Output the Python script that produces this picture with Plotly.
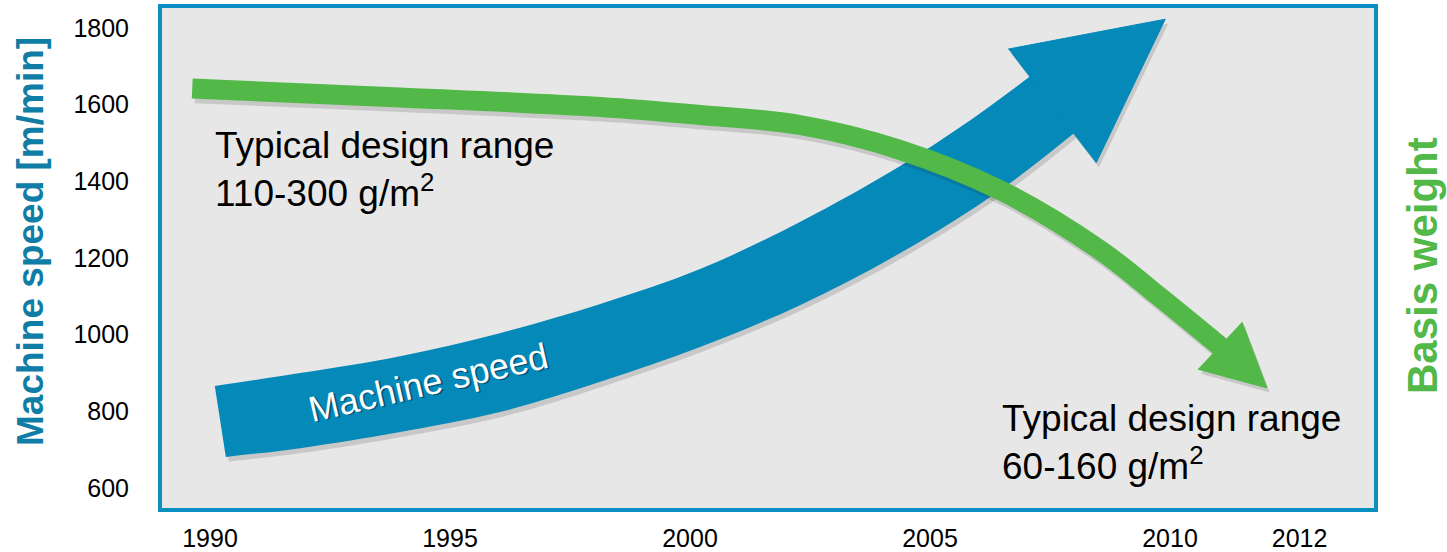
import plotly.graph_objects as go

# ---------------- data ----------------
# Machine speed band: upper and lower edges of the curved arrow (year, m/min)
speed_upper_year = [1990.10, 1991.88, 1993.96, 1996.04, 1998.13, 2000.21, 2002.29, 2004.38, 2005.73, 2007.15]
speed_upper_val = [866, 900, 944, 1004, 1080, 1171, 1294, 1440, 1550, 1680]
speed_lower_year = [1990.33, 1991.88, 1993.96, 1996.04, 1998.13, 2000.21, 2002.29, 2004.38, 2006.46, 2008.08]
speed_lower_val = [681, 704, 746, 798, 877, 968, 1077, 1213, 1377, 1534]
speed_head_year = [2006.63, 2009.90, 2008.46]
speed_head_val = [1745, 1823, 1448]

# Basis weight trend: centre line of the green arrow and its head
basis_year = [1989.63, 1993.96, 1998.13, 2000.21, 2002.29, 2004.38, 2006.46, 2008.54, 2009.79, 2011.06]
basis_val = [1642, 1619, 1594, 1573, 1547, 1482, 1377, 1221, 1098, 968]
basis_head_year = [2011.50, 2012.02, 2010.58]
basis_head_val = [1033, 861, 910]

x_tick_labels = ["1990", "1995", "2000", "2005", "2010", "2012"]
x_tick_pos = [1990, 1995, 2000, 2005, 2010, 2012.7]
y_tick_vals = [600, 800, 1000, 1200, 1400, 1600, 1800]

# ---------------- styles ----------------
BLUE = "#0489b9"
BORDER = "#0b8ec2"
TITLE_BLUE = "#0f7da5"
GREEN = "#52b848"
SHADOW = "rgba(40,40,40,0.16)"
FONT = "Liberation Sans, Arial, sans-serif"
SDX, SDY = 0.06, -12  # drop-shadow offset in data units


def shifted(xs, ys):
    return [x + SDX for x in xs], [y + SDY for y in ys]


fig = go.Figure()

# blue band shadow
sx, sy = shifted(speed_lower_year, speed_lower_val)
fig.add_trace(go.Scatter(x=sx, y=sy, mode="lines", line=dict(width=0, shape="spline", color=SHADOW),
                         hoverinfo="skip", showlegend=False))
sx, sy = shifted(speed_upper_year, speed_upper_val)
fig.add_trace(go.Scatter(x=sx, y=sy, mode="lines", line=dict(width=0, shape="spline", color=SHADOW),
                         fill="tonexty", fillcolor=SHADOW, hoverinfo="skip", showlegend=False))
sx, sy = shifted(speed_head_year, speed_head_val)
fig.add_trace(go.Scatter(x=sx, y=sy, mode="lines", line=dict(width=0, color=SHADOW),
                         fill="toself", fillcolor=SHADOW, hoverinfo="skip", showlegend=False))

# blue band
fig.add_trace(go.Scatter(x=speed_lower_year, y=speed_lower_val, mode="lines",
                         line=dict(width=0, shape="spline", color=BLUE), hoverinfo="skip", showlegend=False))
fig.add_trace(go.Scatter(x=speed_upper_year, y=speed_upper_val, mode="lines",
                         line=dict(width=0, shape="spline", color=BLUE), fill="tonexty", fillcolor=BLUE,
                         name="Machine speed", showlegend=False))
fig.add_trace(go.Scatter(x=speed_head_year, y=speed_head_val, mode="lines", line=dict(width=1, color=BLUE),
                         fill="toself", fillcolor=BLUE, hoverinfo="skip", showlegend=False))

# green arrow (on overlaid right axis)
sx, sy = shifted(basis_year, basis_val)
fig.add_trace(go.Scatter(x=sx, y=sy, yaxis="y2", mode="lines", line=dict(width=20, shape="spline", color=SHADOW),
                         hoverinfo="skip", showlegend=False))
sx, sy = shifted(basis_head_year, basis_head_val)
fig.add_trace(go.Scatter(x=sx, y=sy, yaxis="y2", mode="lines", line=dict(width=0, color=SHADOW),
                         fill="toself", fillcolor=SHADOW, hoverinfo="skip", showlegend=False))
fig.add_trace(go.Scatter(x=basis_year, y=basis_val, yaxis="y2", mode="lines",
                         line=dict(width=20, shape="spline", color=GREEN), name="Basis weight", showlegend=False))
fig.add_trace(go.Scatter(x=basis_head_year, y=basis_head_val, yaxis="y2", mode="lines",
                         line=dict(width=1, color=GREEN), fill="toself", fillcolor=GREEN,
                         hoverinfo="skip", showlegend=False))

# text labels
fig.add_annotation(x=1990.06, y=1430, xref="x", yref="y", xanchor="left", yanchor="middle", align="left",
                   text="Typical design range<br>110-300 g/m<sup>2</sup>", showarrow=False,
                   font=dict(family=FONT, size=37, color="#000000"))
fig.add_annotation(x=2006.46, y=718, xref="x", yref="y", xanchor="left", yanchor="middle", align="left",
                   text="Typical design range<br>60-160 g/m<sup>2</sup>", showarrow=False,
                   font=dict(family=FONT, size=37, color="#000000"))
# band label with a faint text shadow
fig.add_annotation(x=1994.55, y=876, xref="x", yref="y", text="Machine speed", showarrow=False,
                   textangle=-13, xshift=1.5, yshift=-1.5,
                   font=dict(family=FONT, size=36, color="rgba(0,40,60,0.55)"))
fig.add_annotation(x=1994.55, y=876, xref="x", yref="y", text="Machine speed", showarrow=False,
                   textangle=-13, font=dict(family=FONT, size=36, color="#ffffff"))

# axis titles
fig.add_annotation(x=-0.1089, y=0.532, xref="paper", yref="paper", xanchor="center", yanchor="middle",
                   text="Machine speed [m/min]", textangle=-90, showarrow=False,
                   font=dict(family=FONT, size=37, color=TITLE_BLUE, weight="bold"))
fig.add_annotation(x=1.0396, y=0.486, xref="paper", yref="paper", xanchor="center", yanchor="middle",
                   text="Basis weight", textangle=-90, showarrow=False,
                   font=dict(family=FONT, size=42, color=GREEN, weight="bold"))

RANGE_Y = [547.8, 1852.2]

fig.update_layout(
    width=1447, height=552,
    margin=dict(l=162, r=73, t=8, b=44),
    paper_bgcolor="#ffffff",
    plot_bgcolor="#e7e7e7",
    font=dict(family=FONT, size=25, color="#000000"),
    xaxis=dict(range=[1989.0, 2014.25], tickvals=x_tick_pos, ticktext=x_tick_labels,
               showgrid=False, zeroline=False, showline=True, mirror=True, linewidth=4, linecolor=BORDER,
               ticks="", ticklabelstandoff=5, automargin=False,
               tickfont=dict(family=FONT, size=25, color="#000000")),
    yaxis=dict(range=RANGE_Y, tickvals=y_tick_vals, showgrid=False, zeroline=False,
               showline=True, mirror=True, linewidth=4, linecolor=BORDER, ticks="",
               ticklabelstandoff=24, automargin=False,
               tickfont=dict(family=FONT, size=25, color="#000000")),
    yaxis2=dict(range=RANGE_Y, overlaying="y", side="right", showgrid=False, zeroline=False,
                showline=False, showticklabels=False, ticks="", automargin=False),
    showlegend=False,
)

fig.write_html("out.html")
